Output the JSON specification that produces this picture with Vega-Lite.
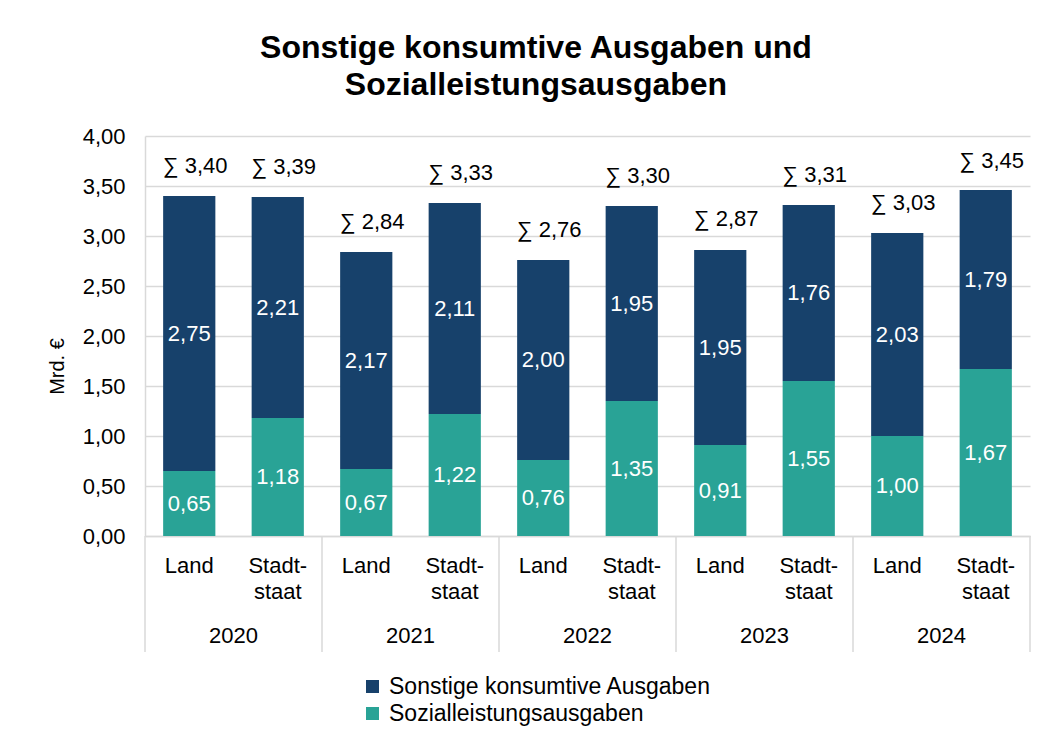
{
  "$schema": "https://vega.github.io/schema/vega-lite/v6.json",
  "autosize": {"type": "none"},
  "width": 885,
  "height": 400,
  "padding": {"left": 145, "top": 136, "right": 29, "bottom": 195},
  "background": "white",
  "config": {
    "font": "Liberation Sans",
    "view": {"stroke": null},
    "text": {"font": "Liberation Sans"}
  },
  "title": {
    "text": ["Sonstige konsumtive Ausgaben und", "Sozialleistungsausgaben"],
    "font": "Liberation Sans",
    "fontSize": 32,
    "fontWeight": "bold",
    "color": "black",
    "anchor": "middle",
    "frame": "bounds",
    "lineHeight": 37,
    "offset": 23,
    "dx": -3
  },
  "datasets": {
    "bars": [
      {"year": "2020", "typ": "Land", "key": "2020|Land", "serie": "Sozialleistungsausgaben", "ord": 0, "wert": 0.65},
      {"year": "2020", "typ": "Land", "key": "2020|Land", "serie": "Sonstige konsumtive Ausgaben", "ord": 1, "wert": 2.75},
      {"year": "2020", "typ": "Stadtstaat", "key": "2020|Stadtstaat", "serie": "Sozialleistungsausgaben", "ord": 0, "wert": 1.18},
      {"year": "2020", "typ": "Stadtstaat", "key": "2020|Stadtstaat", "serie": "Sonstige konsumtive Ausgaben", "ord": 1, "wert": 2.21},
      {"year": "2021", "typ": "Land", "key": "2021|Land", "serie": "Sozialleistungsausgaben", "ord": 0, "wert": 0.67},
      {"year": "2021", "typ": "Land", "key": "2021|Land", "serie": "Sonstige konsumtive Ausgaben", "ord": 1, "wert": 2.17},
      {"year": "2021", "typ": "Stadtstaat", "key": "2021|Stadtstaat", "serie": "Sozialleistungsausgaben", "ord": 0, "wert": 1.22},
      {"year": "2021", "typ": "Stadtstaat", "key": "2021|Stadtstaat", "serie": "Sonstige konsumtive Ausgaben", "ord": 1, "wert": 2.11},
      {"year": "2022", "typ": "Land", "key": "2022|Land", "serie": "Sozialleistungsausgaben", "ord": 0, "wert": 0.76},
      {"year": "2022", "typ": "Land", "key": "2022|Land", "serie": "Sonstige konsumtive Ausgaben", "ord": 1, "wert": 2.00},
      {"year": "2022", "typ": "Stadtstaat", "key": "2022|Stadtstaat", "serie": "Sozialleistungsausgaben", "ord": 0, "wert": 1.35},
      {"year": "2022", "typ": "Stadtstaat", "key": "2022|Stadtstaat", "serie": "Sonstige konsumtive Ausgaben", "ord": 1, "wert": 1.95},
      {"year": "2023", "typ": "Land", "key": "2023|Land", "serie": "Sozialleistungsausgaben", "ord": 0, "wert": 0.91},
      {"year": "2023", "typ": "Land", "key": "2023|Land", "serie": "Sonstige konsumtive Ausgaben", "ord": 1, "wert": 1.95},
      {"year": "2023", "typ": "Stadtstaat", "key": "2023|Stadtstaat", "serie": "Sozialleistungsausgaben", "ord": 0, "wert": 1.55},
      {"year": "2023", "typ": "Stadtstaat", "key": "2023|Stadtstaat", "serie": "Sonstige konsumtive Ausgaben", "ord": 1, "wert": 1.76},
      {"year": "2024", "typ": "Land", "key": "2024|Land", "serie": "Sozialleistungsausgaben", "ord": 0, "wert": 1.00},
      {"year": "2024", "typ": "Land", "key": "2024|Land", "serie": "Sonstige konsumtive Ausgaben", "ord": 1, "wert": 2.03},
      {"year": "2024", "typ": "Stadtstaat", "key": "2024|Stadtstaat", "serie": "Sozialleistungsausgaben", "ord": 0, "wert": 1.67},
      {"year": "2024", "typ": "Stadtstaat", "key": "2024|Stadtstaat", "serie": "Sonstige konsumtive Ausgaben", "ord": 1, "wert": 1.79}
    ],
    "sums": [
      {"key": "2020|Land", "summe": 3.40},
      {"key": "2020|Stadtstaat", "summe": 3.39},
      {"key": "2021|Land", "summe": 2.84},
      {"key": "2021|Stadtstaat", "summe": 3.33},
      {"key": "2022|Land", "summe": 2.76},
      {"key": "2022|Stadtstaat", "summe": 3.30},
      {"key": "2023|Land", "summe": 2.87},
      {"key": "2023|Stadtstaat", "summe": 3.31},
      {"key": "2024|Land", "summe": 3.03},
      {"key": "2024|Stadtstaat", "summe": 3.45}
    ],
    "years": [
      {"year": "2020", "start": "2020|Land", "mid": "2020|Stadtstaat"},
      {"year": "2021", "start": "2021|Land", "mid": "2021|Stadtstaat"},
      {"year": "2022", "start": "2022|Land", "mid": "2022|Stadtstaat"},
      {"year": "2023", "start": "2023|Land", "mid": "2023|Stadtstaat"},
      {"year": "2024", "start": "2024|Land", "mid": "2024|Stadtstaat"}
    ]
  },
  "encoding": {
    "x": {
      "field": "key",
      "type": "nominal",
      "sort": null,
      "scale": {
        "domain": ["2020|Land", "2020|Stadtstaat", "2021|Land", "2021|Stadtstaat", "2022|Land", "2022|Stadtstaat", "2023|Land", "2023|Stadtstaat", "2024|Land", "2024|Stadtstaat"],
        "paddingInner": 0,
        "paddingOuter": 0
      },
      "axis": {
        "title": null,
        "labelAngle": 0,
        "labelExpr": "indexof(datum.value, 'Land') >= 0 ? 'Land' : ['Stadt-', 'staat']",
        "labelFont": "Liberation Sans",
        "labelFontSize": 22,
        "labelColor": "black",
        "labelLineHeight": 26,
        "labelPadding": 19,
        "labelBaseline": "top",
        "ticks": false,
        "domainColor": "#d9d9d9",
        "domainWidth": 1.5
      }
    }
  },
  "layer": [
    {
      "data": {"name": "bars"},
      "transform": [
        {"stack": "wert", "groupby": ["key"], "sort": [{"field": "ord", "order": "ascending"}], "as": ["v0", "v1"]}
      ],
      "mark": {"type": "bar", "width": {"band": 0.59}},
      "encoding": {
        "y": {
          "field": "v0",
          "type": "quantitative",
          "scale": {"domain": [0, 4], "nice": false, "zero": true},
          "axis": {
            "values": [0, 0.5, 1, 1.5, 2, 2.5, 3, 3.5, 4],
            "labelExpr": "replace(format(datum.value, '.2f'), '.', ',')",
            "labelFont": "Liberation Sans",
            "labelFontSize": 22,
            "labelColor": "black",
            "labelPadding": 20,
            "ticks": false,
            "domainColor": "#d9d9d9",
            "domainWidth": 1.5,
            "gridColor": "#d9d9d9",
            "gridWidth": 1.5,
            "title": "Mrd. €",
            "titleFont": "Liberation Sans",
            "titleFontSize": 20,
            "titleFontWeight": "normal",
            "titleColor": "black",
            "titlePadding": 15,
            "titleY": 230
          }
        },
        "y2": {"field": "v1"},
        "color": {
          "field": "serie",
          "type": "nominal",
          "scale": {
            "domain": ["Sonstige konsumtive Ausgaben", "Sozialleistungsausgaben"],
            "range": ["#17416B", "#29A396"]
          },
          "legend": {
            "title": null,
            "orient": "none",
            "legendX": 216,
            "legendY": 539,
            "direction": "vertical",
            "symbolType": "square",
            "symbolSize": 170,
            "symbolStrokeWidth": 0,
            "symbolOpacity": 1,
            "labelFont": "Liberation Sans",
            "labelFontSize": 23,
            "labelColor": "black",
            "labelLimit": 0,
            "labelOffset": 5,
            "rowPadding": 3
          }
        }
      }
    },
    {
      "data": {"name": "bars"},
      "transform": [
        {"stack": "wert", "groupby": ["key"], "sort": [{"field": "ord", "order": "ascending"}], "as": ["v0", "v1"]},
        {"calculate": "(datum.v0 + datum.v1) / 2", "as": "mitte"},
        {"calculate": "replace(format(datum.wert, '.2f'), '.', ',')", "as": "etikett"}
      ],
      "mark": {"type": "text", "color": "white", "fontSize": 22, "baseline": "middle", "align": "center"},
      "encoding": {
        "y": {"field": "mitte", "type": "quantitative"},
        "text": {"field": "etikett"}
      }
    },
    {
      "data": {"name": "sums"},
      "transform": [
        {"calculate": "'∑ ' + replace(format(datum.summe, '.2f'), '.', ',')", "as": "etikett"}
      ],
      "mark": {"type": "text", "color": "black", "fontSize": 22, "baseline": "alphabetic", "align": "center", "dy": -23, "dx": 6},
      "encoding": {
        "y": {"field": "summe", "type": "quantitative"},
        "text": {"field": "etikett"}
      }
    },
    {
      "data": {"name": "years"},
      "mark": {"type": "rule", "color": "#d9d9d9", "strokeWidth": 1.5},
      "encoding": {
        "x": {"field": "start", "type": "nominal", "bandPosition": 0},
        "y": {"datum": 0, "type": "quantitative"},
        "y2": {"datum": -1.16}
      }
    },
    {
      "data": {"name": "years"},
      "transform": [{"filter": "datum.year == '2024'"}],
      "mark": {"type": "rule", "color": "#d9d9d9", "strokeWidth": 1.5},
      "encoding": {
        "x": {"field": "mid", "type": "nominal", "bandPosition": 1},
        "y": {"datum": 0, "type": "quantitative"},
        "y2": {"datum": -1.16}
      }
    },
    {
      "data": {"name": "years"},
      "mark": {"type": "text", "color": "black", "fontSize": 22, "baseline": "middle", "align": "center"},
      "encoding": {
        "x": {"field": "mid", "type": "nominal", "bandPosition": 0},
        "y": {"datum": -1.0, "type": "quantitative"},
        "text": {"field": "year"}
      }
    }
  ]
}
